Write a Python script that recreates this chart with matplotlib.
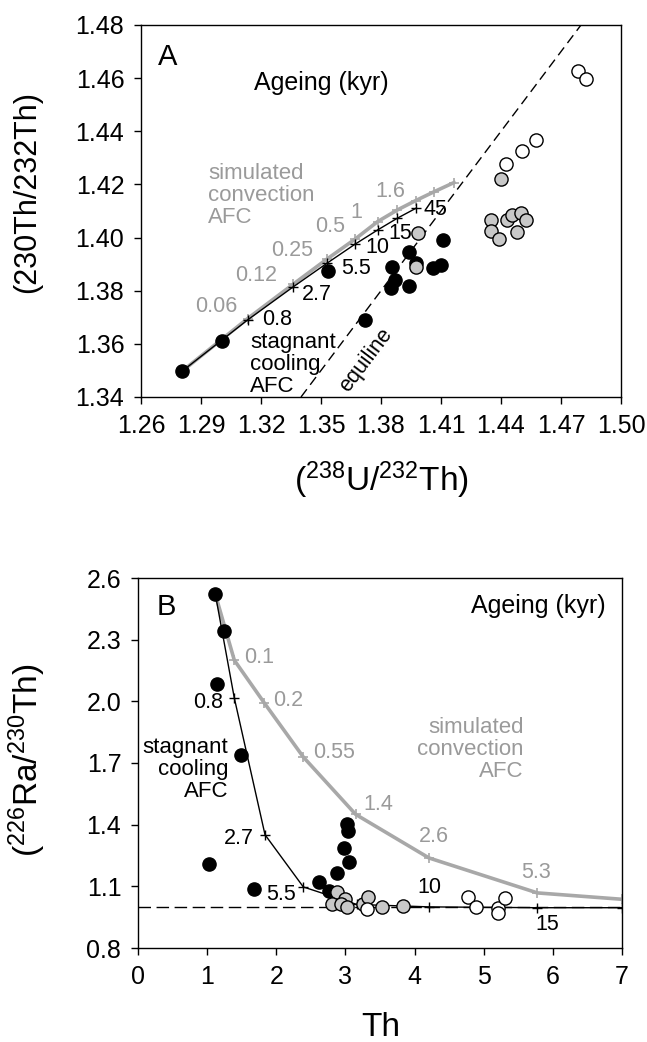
import numpy as np
import matplotlib
matplotlib.use("Agg")
import matplotlib.pyplot as plt

plt.rcParams['font.family'] = ['Liberation Sans', 'DejaVu Sans']
plt.rcParams['mathtext.fontset'] = 'custom'
plt.rcParams['mathtext.rm'] = 'Liberation Sans'
plt.rcParams['mathtext.default'] = 'regular'

GREY_LINE = '#a8a8a8'
GREY_TEXT = '#9a9a9a'
GREY_FILL = '#c8c8c8'

# ---- panel A: (238U/232Th) vs (230Th/232Th) ----
a_black_x = [1.2807, 1.3007, 1.3537, 1.3720, 1.3857, 1.3870, 1.3850, 1.3940, 1.3940, 1.3975, 1.4058, 1.4098, 1.4112]
a_black_y = [1.3498, 1.3610, 1.3875, 1.3689, 1.3890, 1.3842, 1.3812, 1.3944, 1.3818, 1.3906, 1.3886, 1.3896, 1.3990]
a_gray_x = [1.3985, 1.3975, 1.4398, 1.4350, 1.4350, 1.4390, 1.4432, 1.4453, 1.4500, 1.4525, 1.4482]
a_gray_y = [1.4018, 1.3890, 1.4220, 1.4065, 1.4024, 1.3993, 1.4065, 1.4084, 1.4093, 1.4065, 1.4021]
a_open_x = [1.4423, 1.4507, 1.4573, 1.4787, 1.4825]
a_open_y = [1.4276, 1.4327, 1.4369, 1.4628, 1.4597]

# stagnant cooling AFC model (first point = starting magma)
a_stag_x = [1.2807, 1.3133, 1.3362, 1.3529, 1.3670, 1.3784, 1.3882, 1.3974]
a_stag_y = [1.3498, 1.3690, 1.3815, 1.3903, 1.3975, 1.4029, 1.4073, 1.4110]
a_stag_lbl = ['0.8', '2.7', '5.5', '10', '15', '45']
a_stag_lbl_x = [1.3205, 1.3405, 1.3600, 1.3720, 1.3835, 1.4010]
a_stag_lbl_y = [1.3690, 1.3784, 1.3882, 1.3961, 1.4017, 1.4104]

# simulated convection AFC model
a_conv_x = [1.2807, 1.3133, 1.3362, 1.3528, 1.3670, 1.3783, 1.3882, 1.3973, 1.4067, 1.4165]
a_conv_y = [1.3498, 1.3695, 1.3825, 1.3918, 1.3994, 1.4060, 1.4104, 1.4139, 1.4173, 1.4207]
a_conv_lbl = ['0.06', '0.12', '0.25', '0.5', '1', '1.6']
a_conv_lbl_x = [1.3080, 1.3280, 1.3460, 1.3620, 1.3705, 1.3920]
a_conv_lbl_y = [1.3739, 1.3859, 1.3953, 1.4040, 1.4096, 1.4172]

a_xticks = [1.26, 1.29, 1.32, 1.35, 1.38, 1.41, 1.44, 1.47, 1.50]
a_yticks = [1.34, 1.36, 1.38, 1.40, 1.42, 1.44, 1.46, 1.48]

# ---- panel B: Th vs (226Ra/230Th) ----
b_black_x = [1.119, 1.249, 1.138, 1.485, 1.027, 1.678, 2.623, 2.883, 2.768, 2.985, 3.052, 3.018, 3.042]
b_black_y = [2.520, 2.340, 2.086, 1.740, 1.207, 1.089, 1.121, 1.165, 1.077, 1.287, 1.218, 1.405, 1.369]
b_gray_x = [2.874, 2.811, 2.994, 2.936, 3.028, 3.259, 3.332, 3.525, 3.838]
b_gray_y = [1.072, 1.012, 1.040, 1.012, 1.000, 1.012, 1.048, 1.000, 1.003]
b_open_x = [3.308, 4.778, 4.884, 5.203, 5.203, 5.309]
b_open_y = [0.991, 1.048, 1.000, 0.996, 0.970, 1.043]

b_stag_x = [1.119, 1.393, 1.837, 2.391, 3.163, 4.214, 5.776, 7.0]
b_stag_y = [2.520, 2.016, 1.351, 1.097, 1.012, 1.000, 0.996, 0.996]
b_stag_lbl = ['0.8', '2.7', '5.5', '10', '15']
b_stag_lbl_x = [1.229, 1.678, 2.285, 4.035, 5.742]
b_stag_lbl_y = [1.992, 1.335, 1.058, 1.092, 0.912]
b_stag_lbl_ha = ['right', 'right', 'right', 'left', 'left']

b_conv_x = [1.119, 1.393, 1.827, 2.391, 3.148, 4.209, 5.776, 7.0]
b_conv_y = [2.520, 2.200, 1.992, 1.729, 1.450, 1.238, 1.068, 1.037]
b_conv_lbl = ['0.1', '0.2', '0.55', '1.4', '2.6', '5.3']
b_conv_lbl_x = [1.533, 1.953, 2.531, 3.254, 4.064, 5.539]
b_conv_lbl_y = [2.211, 2.006, 1.753, 1.496, 1.340, 1.165]

b_xticks = [0, 1, 2, 3, 4, 5, 6, 7]
b_yticks = [0.8, 1.1, 1.4, 1.7, 2.0, 2.3, 2.6]

W, H = 647, 1042
fig = plt.figure(figsize=(W / 100, H / 100), dpi=100)
axA = fig.add_axes([141 / W, 1 - 397 / H, 480 / W, 372 / H])
axB = fig.add_axes([138 / W, 1 - 948 / H, 484 / W, 370 / H])

ms = 9.5


def style_axes(ax):
    for s in ax.spines.values():
        s.set_linewidth(1.0)
    ax.tick_params(direction='out', length=5, width=1.0, labelsize=18, pad=7)


def samples(ax, bx, by, gx, gy, ox, oy):
    ax.plot(bx, by, 'o', ms=ms, mfc='black', mec='black', mew=1, zorder=5)
    ax.plot(gx, gy, 'o', ms=ms, mfc=GREY_FILL, mec='black', mew=1, zorder=6)
    ax.plot(ox, oy, 'o', ms=ms, mfc='white', mec='black', mew=1, zorder=6)


def curves(ax, sx, sy, cx, cy):
    ax.plot(cx, cy, '-', color=GREY_LINE, lw=2.6, zorder=2)
    ax.plot(cx[1:], cy[1:], '+', color=GREY_LINE, ms=7, mew=1.2, zorder=2)
    ax.plot(sx, sy, '-', color='black', lw=1.0, zorder=3)
    ax.plot(sx[1:], sy[1:], '+', color='black', ms=7, mew=1.0, zorder=3)


# panel A
style_axes(axA)
axA.plot([1.34, 1.48], [1.34, 1.48], color='black', lw=1.0, dashes=(7, 4), zorder=1)
curves(axA, a_stag_x, a_stag_y, a_conv_x, a_conv_y)
samples(axA, a_black_x, a_black_y, a_gray_x, a_gray_y, a_open_x, a_open_y)
for t, x, y in zip(a_stag_lbl, a_stag_lbl_x, a_stag_lbl_y):
    axA.text(x, y, t, fontsize=15.5, ha='left', va='center', zorder=7)
for t, x, y in zip(a_conv_lbl, a_conv_lbl_x, a_conv_lbl_y):
    axA.text(x, y, t, fontsize=15.5, color=GREY_TEXT, ha='right', va='center', zorder=7)
axA.set_xlim(1.26, 1.50)
axA.set_ylim(1.34, 1.48)
axA.set_xticks(a_xticks)
axA.set_yticks(a_yticks)
axA.set_xticklabels(['%.2f' % v for v in a_xticks])
axA.set_yticklabels(['%.2f' % v for v in a_yticks])
axA.text(0.035, 0.892, 'A', transform=axA.transAxes, fontsize=21, va='baseline')
axA.text(0.375, 0.825, 'Ageing (kyr)', transform=axA.transAxes, fontsize=18,
         ha='center', va='baseline')
# multi-line blocks: baseline refers to the last line
axA.text(0.140, 0.468, 'simulated\nconvection\nAFC', transform=axA.transAxes,
         fontsize=16, color=GREY_TEXT, ha='left', va='baseline', linespacing=1.05)
axA.text(0.227, 0.0134, 'stagnant\ncooling\nAFC', transform=axA.transAxes,
         fontsize=16, ha='left', va='baseline', linespacing=1.05)
axA.text(1.3725, 1.3539, 'equiline', fontsize=15.5, rotation=53,
         ha='center', va='center', rotation_mode='anchor')

# panel B
style_axes(axB)
axB.plot([0, 7], [1.0, 1.0], color='black', lw=1.0, dashes=(9, 4), zorder=1)
curves(axB, b_stag_x, b_stag_y, b_conv_x, b_conv_y)
samples(axB, b_black_x, b_black_y, b_gray_x, b_gray_y, b_open_x, b_open_y)
for t, x, y, ha in zip(b_stag_lbl, b_stag_lbl_x, b_stag_lbl_y, b_stag_lbl_ha):
    axB.text(x, y, t, fontsize=15.5, ha=ha, va='center', zorder=7)
for t, x, y in zip(b_conv_lbl, b_conv_lbl_x, b_conv_lbl_y):
    axB.text(x, y, t, fontsize=15.5, color=GREY_TEXT, ha='left', va='center', zorder=7)
axB.set_xlim(0, 7)
axB.set_ylim(0.8, 2.6)
axB.set_xticks(b_xticks)
axB.set_yticks(b_yticks)
axB.set_yticklabels(['%.1f' % v for v in b_yticks])
axB.text(0.039, 0.9, 'B', transform=axB.transAxes, fontsize=21, va='baseline')
axB.text(0.967, 0.905, 'Ageing (kyr)', transform=axB.transAxes, fontsize=18,
         ha='right', va='baseline')
axB.text(0.797, 0.462, 'simulated\nconvection\nAFC', transform=axB.transAxes,
         fontsize=16, color=GREY_TEXT, ha='right', va='baseline', linespacing=1.05,
         multialignment='right')
axB.text(0.186, 0.408, 'stagnant\ncooling\nAFC', transform=axB.transAxes,
         fontsize=16, ha='right', va='baseline', linespacing=1.05, multialignment='right')

# axis titles
fig.text(27 / W, 1 - 192 / H, '(230Th/232Th)', fontsize=22, rotation=90,
         ha='center', va='center')
fig.text(381 / W, 1 - 480 / H, r'($^{238}$U/$^{232}$Th)', fontsize=24,
         ha='center', va='center')
fig.text(27 / W, 1 - 760 / H, r'($^{226}$Ra/$^{230}$Th)', fontsize=24, rotation=90,
         ha='center', va='center')
fig.text(381 / W, 1 - 1028 / H, 'Th', fontsize=24, ha='center', va='center')

fig.savefig('out.png', dpi=100)
